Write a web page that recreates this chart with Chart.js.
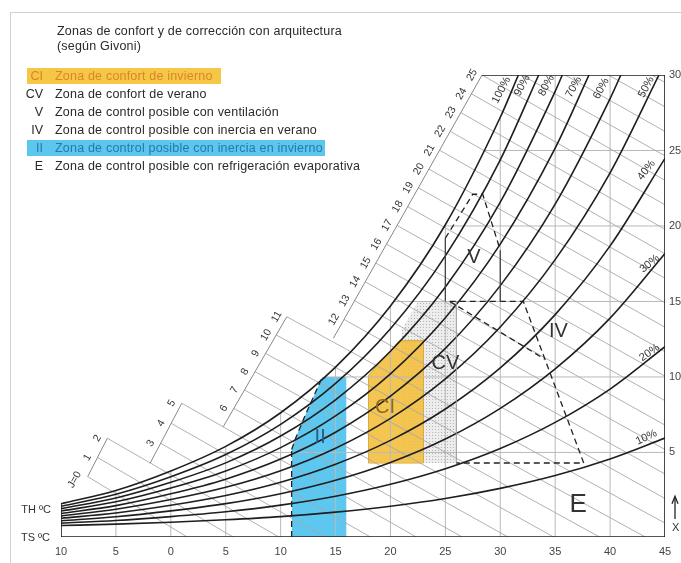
<!DOCTYPE html>
<html><head><meta charset="utf-8">
<script src="https://cdn.jsdelivr.net/npm/chart.js@4.4.1/dist/chart.umd.min.js"></script>
<style>
html,body{margin:0;padding:0;background:#fff;}
#wrap{position:relative;width:681px;height:563px;overflow:hidden;font-family:"Liberation Sans",Arial,sans-serif;}
#frame{position:absolute;left:10px;top:12px;width:700px;height:600px;border-left:1px solid #d0d0d0;border-top:1px solid #d0d0d0;}
canvas{position:absolute;left:0;top:0;}
.t{position:absolute;font-size:12.5px;color:#2a2a2a;white-space:nowrap;line-height:14px;letter-spacing:0.2px;}
.code{position:absolute;font-size:12.5px;color:#2a2a2a;width:24px;text-align:right;line-height:14px;}
.hl{position:absolute;}
</style></head><body>
<div id="wrap"><div id="frame"></div><canvas id="c" width="681" height="563"></canvas><div id="legend"></div></div>
<script>
// ---------- DATA ----------
const titleLines = ['Zonas de confort y de corrección con arquitectura', '(según Givoni)'];
const legendCodes = ['CI','CV','V','IV','II','E'];
const legendTexts = ['Zona de confort de invierno','Zona de confort de verano','Zona de control posible con ventilación','Zona de control posible con inercia en verano','Zona de control posible con inercia en invierno','Zona de control posible con refrigeración evaporativa'];

const temps = [-10,-5,0,5,10,15,20,25,30,35,40,45];
const xTicks = [-10,-5,0,5,10,15,20,25,30,35,40,45];
const yTicks = [5,10,15,20,25,30];

const rh10  = [0.16,0.25,0.38,0.54,0.75,1.05,1.44,1.95,2.62,3.47,4.57,5.95];
const rh20  = [0.32,0.49,0.75,1.07,1.51,2.10,2.89,3.92,5.26,6.99,9.20,12.01];
const rh30  = [0.48,0.74,1.13,1.61,2.27,3.16,4.34,5.89,7.92,10.54,13.90,18.18];
const rh40  = [0.64,0.99,1.50,2.15,3.03,4.22,5.80,7.88,10.60,14.13,18.68,24.48];
const rh50  = [0.80,1.24,1.88,2.69,3.79,5.28,7.26,9.88,13.31,17.77,23.52];
const rh60  = [0.96,1.48,2.26,3.23,4.56,6.34,8.73,11.89,16.05,21.45,28.44];
const rh70  = [1.12,1.73,2.64,3.77,5.32,7.42,10.21,13.92,18.80,25.16];
const rh80  = [1.28,1.98,3.02,4.31,6.09,8.49,11.70,15.96,21.58,28.92];
const rh90  = [1.44,2.23,3.39,4.86,6.86,9.57,13.20,18.02,24.38];
const rh100 = [1.60,2.48,3.77,5.40,7.63,10.65,14.70,20.08,27.20];
const rhTopT = [null,null,null,null,44.45,40.98,38.08,35.65,33.5,31.65];
const rhNames = ['10%','20%','30%','40%','50%','60%','70%','80%','90%','100%'];
const rhLabT = [43.3,43.6,43.6,43.3,43.3,39.2,36.7,34.2,32.0,30.1];
const rhLabW = [6.0,11.6,17.5,23.7,29.2,29.1,29.2,29.3,29.3,29.0];
const rhLabRot = [-25,-35,-40,-52,-62,-62,-62,-62,-62,-62];

// enthalpy / wet-bulb lines (J)
const jLabels = ['J=0','1','2','3','4','5','6','7','8','9','10','11','12','13','14','15','16','17','18','19','20','21','22','23','24','25','','','',''];
const jStartT = [-7.57,-6.67,-5.78,-0.93,0.04,1.0,5.74,6.71,7.67,8.63,9.60,10.56,15.77,16.73,17.70,18.67,19.64,20.60,21.57,22.54,23.50,24.47,25.44,26.41,27.37,28.34,31.95,35.90,39.85,43.80];
const jStartW = [3.40,4.67,5.94,5.61,6.93,8.26,7.92,9.14,10.35,11.56,12.78,13.99,13.81,15.05,16.30,17.54,18.79,20.04,21.28,22.53,23.77,25.02,26.27,27.51,28.76,30,30,30,30,30];
const jEndT = [1.49,5.67,9.84,14.01,18.18,22.35,26.53,30.70,34.87,39.04,43.21,45,45,45,45,45,45,45,45,45,45,45,45,45,45,45,45,45,45,45];
const jEndW = [-0.6,-0.6,-0.6,-0.6,-0.6,-0.6,-0.6,-0.6,-0.6,-0.6,-0.6,0.32,1.95,3.57,5.19,6.81,8.43,10.05,11.67,13.29,14.92,16.54,18.16,19.78,21.40,23.02,24.64,26.26,27.89,29.51];
const scaleSegT = [[-7.57,-5.78],[-1.89,1.0],[4.78,10.56],[14.8,28.34]];
const scaleSegW = [[3.40,5.94],[4.28,8.26],[6.71,13.99],[12.56,30]];

// grid
const gridT = [-5,0,5,10,15,20,25,30,35,40];
const gridTopW = [2.48,3.77,5.40,7.63,10.65,14.70,20.08,27.2,30,30];
const gridW = [5,10,15,20,25];
const gridStartT = [3.9,14.1,20.3,24.95,28.6];

// zones
const iiTopT = [11,11.4,12.2,13.0,13.8,16];
const iiTopW = [5.2,6.0,7.4,8.7,10.0,10.0];
const ciTopT = [18,20.8,23];
const ciTopW = [10.1,12.4,12.4];
const ciBase = 4.3;
const cvTopT = [21,22.5,26];
const cvTopW = [13.1,15,15];
const cvBase = 4.3;
const vT = [25,25,27.5,28.4,30,30];
const vW = [15,19.2,22.1,22.1,18.4,15];
const ivT = [25.4,32.1,37.6,26];
const ivW = [15,15,4.3,4.3];
const wbT = [25.4,34];
const wbW = [15,11.2];
const zoneNames = ['V','IV','CV','CI','II','E'];
const zoneLabT = [27.6,35.3,25.0,19.5,13.6,37.1];
const zoneLabW = [17.9,13.0,10.9,8.0,6.0,1.5];

// ---------- BUILD ----------
const P = (xs,ys)=>xs.map((x,i)=>({x:x,y:ys[i]}));
const datasets = [];
const pcan = document.createElement('canvas'); pcan.width=3; pcan.height=3;
const pctx = pcan.getContext('2d'); pctx.fillStyle='#ededed'; pctx.fillRect(0,0,3,3);
pctx.fillStyle='#b4b4b4'; pctx.fillRect(0,0,1,1);
const cvPattern = document.getElementById('c').getContext('2d').createPattern(pcan,'repeat');

const clear='rgba(0,0,0,0)';
datasets.push({data:P(cvTopT,cvTopW),borderColor:clear,backgroundColor:cvPattern,fill:{value:cvBase},order:30});
datasets.push({data:P(iiTopT,iiTopW),borderColor:clear,backgroundColor:'rgba(84,196,238,0.95)',fill:{value:-0.6},order:30});
datasets.push({data:P(ciTopT,ciTopW),borderColor:'rgba(205,155,40,0.9)',borderWidth:1,backgroundColor:'rgba(243,192,62,0.9)',fill:{value:ciBase},order:29});
datasets.push({data:[{x:18,y:ciBase},{x:18,y:10.1}],borderColor:'rgba(205,155,40,0.9)',borderWidth:1,order:29});
datasets.push({data:[{x:23,y:ciBase},{x:23,y:12.4}],borderColor:'rgba(205,155,40,0.9)',borderWidth:1,order:29});
datasets.push({data:[{x:18,y:ciBase},{x:23,y:ciBase}],borderColor:'rgba(205,155,40,0.9)',borderWidth:1,order:29});

gridT.forEach((t,i)=>datasets.push({data:[{x:t,y:-0.6},{x:t,y:gridTopW[i]}],borderColor:'#b9b9b9',borderWidth:1,order:25}));
gridW.forEach((w,i)=>datasets.push({data:[{x:gridStartT[i],y:w},{x:45,y:w}],borderColor:'#b9b9b9',borderWidth:1,order:25}));
jStartT.forEach((t,i)=>datasets.push({data:[{x:t,y:jStartW[i]},{x:jEndT[i],y:jEndW[i]}],borderColor:'#a8a8a8',borderWidth:0.9,order:24}));
scaleSegT.forEach((s,i)=>datasets.push({data:[{x:s[0],y:scaleSegW[i][0]},{x:s[1],y:scaleSegW[i][1]}],borderColor:'#888',borderWidth:1,order:23}));
[rh10,rh20,rh30,rh40,rh50,rh60,rh70,rh80,rh90,rh100].forEach((arr,i)=>{
  const pts = arr.map((w,k)=>({x:temps[k],y:w}));
  if (rhTopT[i]!==null) pts.push({x:rhTopT[i],y:30});
  datasets.push({data:pts,borderColor:'#1e1e1e',borderWidth:1.6,cubicInterpolationMode:'monotone',order:10});
});
const dash=[6,4];
datasets.push({data:P(iiTopT.slice(0,5),iiTopW.slice(0,5)),borderColor:'#222',borderWidth:1.3,borderDash:dash,order:5});
datasets.push({data:[{x:11,y:-0.6},{x:11,y:5.2}],borderColor:'#222',borderWidth:1.3,borderDash:dash,order:5});
datasets.push({data:P(vT.slice(0,2),vW.slice(0,2)),borderColor:'#444',borderWidth:1.3,order:5});
datasets.push({data:P(vT.slice(1,5),vW.slice(1,5)),borderColor:'#222',borderWidth:1.3,borderDash:dash,order:5});
datasets.push({data:P(vT.slice(4,6),vW.slice(4,6)),borderColor:'#444',borderWidth:1.3,order:5});
datasets.push({data:P(ivT,ivW),borderColor:'#222',borderWidth:1.3,borderDash:dash,order:5});
datasets.push({data:P(wbT,wbW),borderColor:'#222',borderWidth:1.3,borderDash:dash,order:5});
datasets.push({data:[{x:26,y:cvBase},{x:26,y:15}],borderColor:'#999',borderWidth:1,order:6});
datasets.push({data:[{x:-10,y:1.6},{x:-10,y:-0.6},{x:45,y:-0.6},{x:45,y:30},{x:28.34,y:30}],borderColor:'#1e1e1e',borderWidth:1.6,order:1});

// ---------- LEGEND (HTML) ----------
const lg = document.getElementById('legend');
const titleTop = [24,39];
const rowTop = [68.5,86.5,104.5,123,141,159];
titleLines.forEach((s,i)=>{const d=document.createElement('div');d.className='t';d.style.left='57px';d.style.top=titleTop[i]+'px';d.textContent=s;lg.appendChild(d);});
legendCodes.forEach((c,i)=>{
  if(i===0||i===4){const h=document.createElement('div');h.className='hl';h.style.left='27px';h.style.top=(rowTop[i]-1)+'px';h.style.height='16px';h.style.width=(i===0?'194px':'298px');h.style.background=i===0?'#f6c746':'#5cc6ee';lg.appendChild(h);}
  const col = i===0?'#d9862a':(i===4?'#2679a8':'#2a2a2a');
  const a=document.createElement('div');a.className='code';a.style.left='19px';a.style.top=rowTop[i]+'px';a.style.color=col;a.textContent=c;lg.appendChild(a);
  const b=document.createElement('div');b.className='t';b.style.left='55px';b.style.top=rowTop[i]+'px';b.style.color=col;b.textContent=legendTexts[i];lg.appendChild(b);
});

// ---------- TEXT PLUGIN ----------
const textPlugin={id:'texts',afterDraw(chart){
  const {ctx,scales:{x,y}}=chart; const px=v=>x.getPixelForValue(v), py=v=>y.getPixelForValue(v);
  ctx.save(); ctx.textAlign='center'; ctx.textBaseline='middle';
  ctx.fillStyle='#333'; ctx.font='10.5px "Liberation Sans", Arial';
  jLabels.forEach((lab,i)=>{ if(!lab) return; ctx.save(); ctx.translate(px(jStartT[i])-(i===0?13:10),py(jStartW[i])+(i===0?3:0)); ctx.rotate(-Math.PI/3); ctx.fillText(lab,0,0); ctx.restore(); });
  ctx.font='11px "Liberation Sans", Arial';
  rhNames.forEach((lab,i)=>{ ctx.save(); ctx.translate(px(rhLabT[i]),py(rhLabW[i])); ctx.rotate(rhLabRot[i]*Math.PI/180); ctx.fillText(lab,0,0); ctx.restore(); });
  const zc=['#333','#333','#333','#8a6a1e','#1f5f88','#333'];
  zoneNames.forEach((z,i)=>{ ctx.fillStyle=zc[i]; ctx.font=(z==='E'?'26px':'20px')+' "Liberation Sans", Arial'; ctx.fillText(z,px(zoneLabT[i]),py(zoneLabW[i])); });
  ctx.fillStyle='#333'; ctx.font='11px "Liberation Sans", Arial'; ctx.textAlign='right';
  ctx.fillText('TH ºC',51,py(1.2)); ctx.fillText('TS ºC',50,py(-0.6)+1);
  ctx.textAlign='left'; ctx.fillText('X',672,py(0));
  const ax=675; ctx.strokeStyle='#222'; ctx.lineWidth=1.3; ctx.beginPath(); ctx.moveTo(ax,py(0.6)); ctx.lineTo(ax,py(2.0)); ctx.stroke();
  ctx.beginPath(); ctx.moveTo(ax-3,py(1.6)); ctx.lineTo(ax,py(2.1)); ctx.lineTo(ax+3,py(1.6)); ctx.stroke();
  ctx.restore();
}};

new Chart(document.getElementById('c'),{
  type:'scatter',
  data:{datasets:datasets},
  options:{
    responsive:false,animation:false,devicePixelRatio:1,events:[],
    layout:{padding:{left:61,top:75,right:0,bottom:0}},
    elements:{point:{radius:0},line:{tension:0}},
    datasets:{scatter:{showLine:true}},
    plugins:{legend:{display:false},tooltip:{enabled:false}},
    scales:{
      x:{type:'linear',min:-10,max:45,afterFit:s=>{s.height=26;},
         afterBuildTicks:s=>{s.ticks=xTicks.map(v=>({value:v}));},
         grid:{display:false,drawTicks:false},border:{display:false},
         ticks:{autoSkip:false,maxRotation:0,padding:8,color:'#444',font:{size:11,family:'"Liberation Sans", Arial'},callback:v=>String(Math.abs(v))}},
      y:{type:'linear',position:'right',min:-0.6,max:30,afterFit:s=>{s.width=16;},
         afterBuildTicks:s=>{s.ticks=yTicks.map(v=>({value:v}));},
         grid:{display:false,drawTicks:false},border:{display:false},
         ticks:{padding:4,color:'#444',font:{size:11,family:'"Liberation Sans", Arial'}}}
    }
  },
  plugins:[textPlugin]
});
</script></body></html>
